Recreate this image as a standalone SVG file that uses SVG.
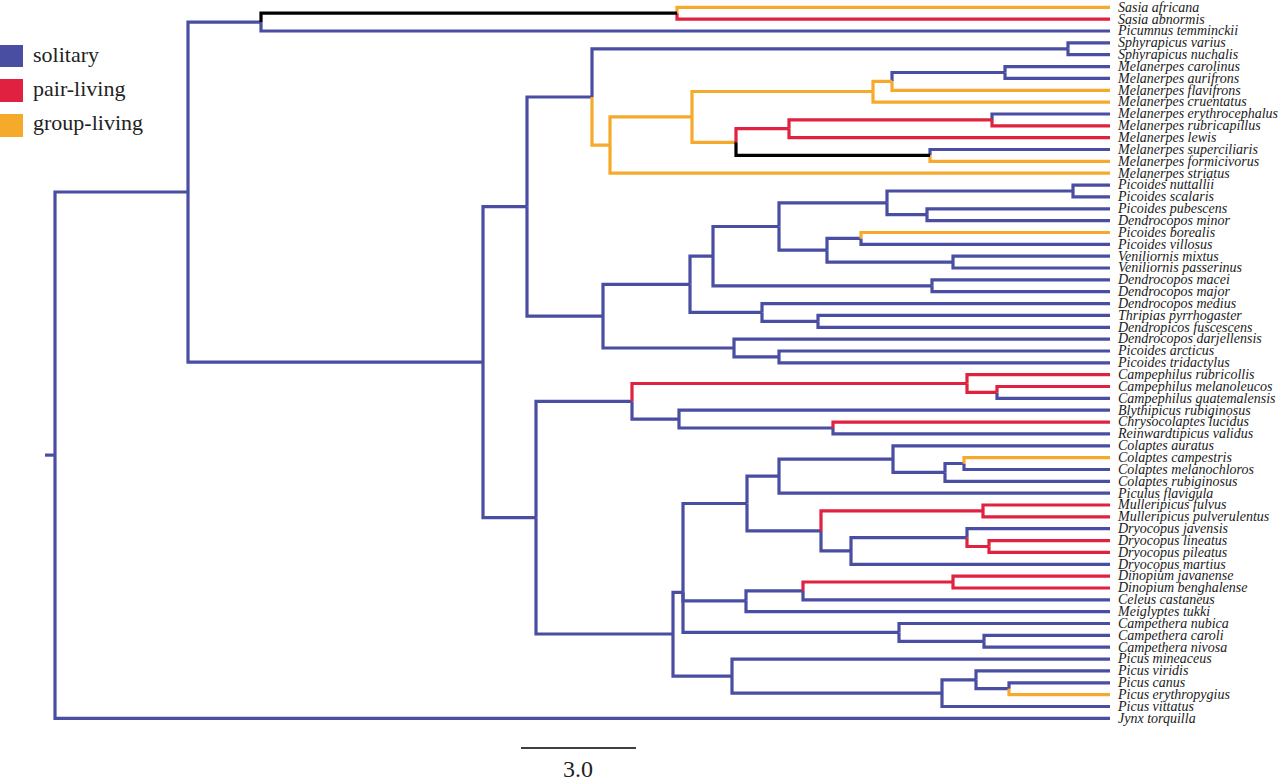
<svg xmlns="http://www.w3.org/2000/svg" width="1280" height="781" viewBox="0 0 1280 781">
<style>
.e{fill:none;stroke-width:3.2;stroke-linejoin:miter;stroke-linecap:butt}
.b{stroke:#4a4ea2}.r{stroke:#e0213f}.o{stroke:#f6aa2c}.k{stroke:#000}
.lab{font-family:"Liberation Serif","Times New Roman",serif;font-style:italic;font-size:14px;fill:#1a1a1a}
.leg{font-family:"Liberation Serif","Times New Roman",serif;font-size:22px;fill:#222}
</style>
<rect width="1280" height="781" fill="#fff"/>
<g id="legend">
<rect x="0" y="45" width="23" height="22" fill="#4a4ea2"/>
<rect x="0" y="79" width="23" height="23" fill="#e0213f"/>
<rect x="0" y="114" width="23" height="23" fill="#f6aa2c"/>
<text class="leg" x="33" y="62">solitary</text>
<text class="leg" x="33" y="96">pair-living</text>
<text class="leg" x="33" y="130">group-living</text>
</g>
<g id="connectors">
<g class="e b">
<path d="M45 455.1H55"/>
<path d="M55 455.1V192H188"/>
<path d="M55 455.1V718.3H1110"/>
<path d="M188 192V22.1H261"/>
<path d="M188 192V362.1H483"/>
<path d="M261 22.1V31H1110"/>
<path d="M483 362.1V206.6H527"/>
<path d="M483 362.1V517.7H536"/>
<path d="M527 206.6V97H592"/>
<path d="M527 206.6V316.1H603"/>
<path d="M592 97V48.8H1068"/>
<path d="M1068 48.8V42.9H1110"/>
<path d="M1068 48.8V54.7H1110"/>
<path d="M892 81.3V72.5H1005"/>
<path d="M1005 72.5V66.6H1110"/>
<path d="M1005 72.5V78.4H1110"/>
<path d="M992 119.9V114H1110"/>
<path d="M930 155.4V149.5H1110"/>
<path d="M603 316.1V284.3H690"/>
<path d="M603 316.1V348H734"/>
<path d="M690 284.3V256.1H713"/>
<path d="M690 284.3V312.4H762"/>
<path d="M713 256.1V226.5H779"/>
<path d="M713 256.1V285.8H932"/>
<path d="M779 226.5V202.8H887"/>
<path d="M779 226.5V250.2H827"/>
<path d="M887 202.8V191H1073"/>
<path d="M887 202.8V214.7H927"/>
<path d="M1073 191V185.1H1110"/>
<path d="M1073 191V196.9H1110"/>
<path d="M927 214.7V208.8H1110"/>
<path d="M927 214.7V220.6H1110"/>
<path d="M827 250.2V238.4H861"/>
<path d="M827 250.2V262.1H953"/>
<path d="M861 238.4V244.3H1110"/>
<path d="M953 262.1V256.2H1110"/>
<path d="M953 262.1V268H1110"/>
<path d="M932 285.8V279.9H1110"/>
<path d="M932 285.8V291.7H1110"/>
<path d="M762 312.4V303.6H1110"/>
<path d="M762 312.4V321.3H818"/>
<path d="M818 321.3V315.4H1110"/>
<path d="M818 321.3V327.3H1110"/>
<path d="M734 348V339.1H1110"/>
<path d="M734 348V356.9H779"/>
<path d="M779 356.9V351H1110"/>
<path d="M779 356.9V362.8H1110"/>
<path d="M536 517.7V401.3H632"/>
<path d="M536 517.7V634H673"/>
<path d="M632 401.3V419.1H679"/>
<path d="M997 392.4V398.4H1110"/>
<path d="M679 419.1V410.2H1110"/>
<path d="M679 419.1V428H833"/>
<path d="M833 428V433.9H1110"/>
<path d="M673 634V592.3H683"/>
<path d="M673 634V676.1H732"/>
<path d="M683 592.3V503.5H747"/>
<path d="M683 592.3V600.8H746"/>
<path d="M683 592.3V632.4H899"/>
<path d="M747 503.5V476.1H779"/>
<path d="M747 503.5V530.9H821"/>
<path d="M779 476.1V459.1H893"/>
<path d="M779 476.1V493.2H1110"/>
<path d="M893 459.1V445.8H1110"/>
<path d="M893 459.1V472.4H945"/>
<path d="M945 472.4V463.5H964"/>
<path d="M945 472.4V481.3H1110"/>
<path d="M964 463.5V469.5H1110"/>
<path d="M821 530.9V550.9H851"/>
<path d="M851 550.9V537.6H967"/>
<path d="M851 550.9V564.3H1110"/>
<path d="M967 537.6V528.7H1110"/>
<path d="M746 600.8V590.9H803"/>
<path d="M746 600.8V611.7H1110"/>
<path d="M803 590.9V599.8H1110"/>
<path d="M899 632.4V623.5H1110"/>
<path d="M899 632.4V641.3H984"/>
<path d="M984 641.3V635.4H1110"/>
<path d="M984 641.3V647.2H1110"/>
<path d="M732 676.1V659.1H1110"/>
<path d="M732 676.1V693.1H942"/>
<path d="M942 693.1V679.8H976"/>
<path d="M942 693.1V706.5H1110"/>
<path d="M976 679.8V670.9H1110"/>
<path d="M976 679.8V688.7H1009"/>
<path d="M1009 688.7V682.8H1110"/>
</g>
<g class="e o">
<path d="M677 13.2V7.3H1110"/>
<path d="M592 97V145.1H610"/>
<path d="M610 145.1V116.9H692"/>
<path d="M610 145.1V173.2H1110"/>
<path d="M692 116.9V91.5H873"/>
<path d="M692 116.9V142.3H736"/>
<path d="M873 91.5V81.3H892"/>
<path d="M873 91.5V102.1H1110"/>
<path d="M892 81.3V90.3H1110"/>
<path d="M930 155.4V161.4H1110"/>
<path d="M861 238.4V232.5H1110"/>
<path d="M964 463.5V457.6H1110"/>
<path d="M1009 688.7V694.6H1110"/>
</g>
<g class="e r">
<path d="M677 13.2V19.2H1110"/>
<path d="M736 142.3V128.7H789"/>
<path d="M789 128.7V119.9H992"/>
<path d="M789 128.7V137.7H1110"/>
<path d="M992 119.9V125.8H1110"/>
<path d="M632 401.3V383.5H967"/>
<path d="M967 383.5V374.7H1110"/>
<path d="M967 383.5V392.4H997"/>
<path d="M997 392.4V386.5H1110"/>
<path d="M833 428V422.1H1110"/>
<path d="M821 530.9V510.9H983"/>
<path d="M983 510.9V505H1110"/>
<path d="M983 510.9V516.9H1110"/>
<path d="M967 537.6V546.5H989"/>
<path d="M989 546.5V540.6H1110"/>
<path d="M989 546.5V552.4H1110"/>
<path d="M803 590.9V582H953"/>
<path d="M953 582V576.1H1110"/>
<path d="M953 582V588H1110"/>
</g>
<g class="e k">
<path d="M261 22.1V13.2H677"/>
<path d="M736 142.3V155.4H930"/>
</g>
</g>
<g id="leaves" class="lab">
<g id="n0"><text x="1118" y="11.6">Sasia africana</text></g>
<g id="n1"><text x="1118" y="23.5">Sasia abnormis</text></g>
<g id="n2"><text x="1118" y="35.3">Picumnus temminckii</text></g>
<g id="n3"><text x="1118" y="47.2">Sphyrapicus varius</text></g>
<g id="n4"><text x="1118" y="59">Sphyrapicus nuchalis</text></g>
<g id="n5"><text x="1118" y="70.9">Melanerpes carolinus</text></g>
<g id="n6"><text x="1118" y="82.7">Melanerpes aurifrons</text></g>
<g id="n7"><text x="1118" y="94.6">Melanerpes flavifrons</text></g>
<g id="n8"><text x="1118" y="106.4">Melanerpes cruentatus</text></g>
<g id="n9"><text x="1118" y="118.3">Melanerpes erythrocephalus</text></g>
<g id="n10"><text x="1118" y="130.1">Melanerpes rubricapillus</text></g>
<g id="n11"><text x="1118" y="142">Melanerpes lewis</text></g>
<g id="n12"><text x="1118" y="153.8">Melanerpes superciliaris</text></g>
<g id="n13"><text x="1118" y="165.7">Melanerpes formicivorus</text></g>
<g id="n14"><text x="1118" y="177.5">Melanerpes striatus</text></g>
<g id="n15"><text x="1118" y="189.4">Picoides nuttallii</text></g>
<g id="n16"><text x="1118" y="201.2">Picoides scalaris</text></g>
<g id="n17"><text x="1118" y="213.1">Picoides pubescens</text></g>
<g id="n18"><text x="1118" y="224.9">Dendrocopos minor</text></g>
<g id="n19"><text x="1118" y="236.8">Picoides borealis</text></g>
<g id="n20"><text x="1118" y="248.6">Picoides villosus</text></g>
<g id="n21"><text x="1118" y="260.5">Veniliornis mixtus</text></g>
<g id="n22"><text x="1118" y="272.3">Veniliornis passerinus</text></g>
<g id="n23"><text x="1118" y="284.2">Dendrocopos macei</text></g>
<g id="n24"><text x="1118" y="296">Dendrocopos major</text></g>
<g id="n25"><text x="1118" y="307.9">Dendrocopos medius</text></g>
<g id="n26"><text x="1118" y="319.7">Thripias pyrrhogaster</text></g>
<g id="n27"><text x="1118" y="331.6">Dendropicos fuscescens</text></g>
<g id="n28"><text x="1118" y="343.4">Dendrocopos darjellensis</text></g>
<g id="n29"><text x="1118" y="355.3">Picoides arcticus</text></g>
<g id="n30"><text x="1118" y="367.1">Picoides tridactylus</text></g>
<g id="n31"><text x="1118" y="379">Campephilus rubricollis</text></g>
<g id="n32"><text x="1118" y="390.8">Campephilus melanoleucos</text></g>
<g id="n33"><text x="1118" y="402.7">Campephilus guatemalensis</text></g>
<g id="n34"><text x="1118" y="414.5">Blythipicus rubiginosus</text></g>
<g id="n35"><text x="1118" y="426.4">Chrysocolaptes lucidus</text></g>
<g id="n36"><text x="1118" y="438.2">Reinwardtipicus validus</text></g>
<g id="n37"><text x="1118" y="450.1">Colaptes auratus</text></g>
<g id="n38"><text x="1118" y="461.9">Colaptes campestris</text></g>
<g id="n39"><text x="1118" y="473.8">Colaptes melanochloros</text></g>
<g id="n40"><text x="1118" y="485.6">Colaptes rubiginosus</text></g>
<g id="n41"><text x="1118" y="497.5">Piculus flavigula</text></g>
<g id="n42"><text x="1118" y="509.3">Mulleripicus fulvus</text></g>
<g id="n43"><text x="1118" y="521.2">Mulleripicus pulverulentus</text></g>
<g id="n44"><text x="1118" y="533">Dryocopus javensis</text></g>
<g id="n45"><text x="1118" y="544.9">Dryocopus lineatus</text></g>
<g id="n46"><text x="1118" y="556.7">Dryocopus pileatus</text></g>
<g id="n47"><text x="1118" y="568.6">Dryocopus martius</text></g>
<g id="n48"><text x="1118" y="580.4">Dinopium javanense</text></g>
<g id="n49"><text x="1118" y="592.3">Dinopium benghalense</text></g>
<g id="n50"><text x="1118" y="604.1">Celeus castaneus</text></g>
<g id="n51"><text x="1118" y="616">Meiglyptes tukki</text></g>
<g id="n52"><text x="1118" y="627.8">Campethera nubica</text></g>
<g id="n53"><text x="1118" y="639.7">Campethera caroli</text></g>
<g id="n54"><text x="1118" y="651.5">Campethera nivosa</text></g>
<g id="n55"><text x="1118" y="663.4">Picus mineaceus</text></g>
<g id="n56"><text x="1118" y="675.2">Picus viridis</text></g>
<g id="n57"><text x="1118" y="687.1">Picus canus</text></g>
<g id="n58"><text x="1118" y="698.9">Picus erythropygius</text></g>
<g id="n59"><text x="1118" y="710.8">Picus vittatus</text></g>
<g id="n60"><text x="1118" y="722.6">Jynx torquilla</text></g>
</g>
<g id="scalebar">
<line x1="521" y1="748" x2="636" y2="748" stroke="#000" stroke-width="1.3"/>
<text x="578" y="777" text-anchor="middle" style="font-family:'Liberation Serif','Times New Roman',serif;font-size:24px;fill:#222">3.0</text>
</g>
</svg>
